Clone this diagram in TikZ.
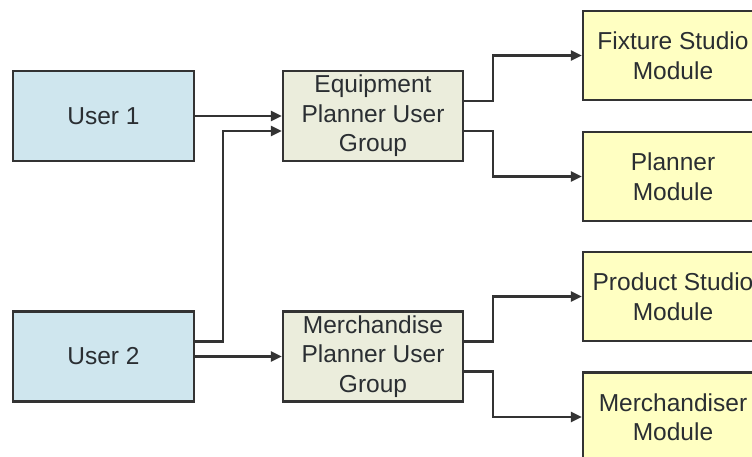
\documentclass[tikz,border=0pt]{standalone}
\usepackage{fontspec}
\setmainfont{Liberation Sans}
\usetikzlibrary{arrows.meta}
\definecolor{userfill}{HTML}{CFE6EE}
\definecolor{groupfill}{HTML}{EBEDDC}
\definecolor{modfill}{HTML}{FFFFC2}
\definecolor{edge}{HTML}{333333}
\definecolor{txt}{HTML}{2A2E32}
\begin{document}
\begin{tikzpicture}[x=1pt,y=-1pt,
  box/.style={draw=edge, line width=2.2pt, minimum width=181pt, minimum height=90pt,
    inner sep=0pt, align=center, text=txt, font=\fontsize{24.5}{29.5}\selectfont},
  userbox/.style={box, fill=userfill},
  groupbox/.style={box, fill=groupfill},
  modbox/.style={box, fill=modfill},
  conn/.style={draw=edge, line width=2.6pt, -{Triangle[length=11pt,width=10pt]}}]
\useasboundingbox (0,0) rectangle (752,456);
\clip (0,0) rectangle (752,456);
\fill[white] (0,0) rectangle (752,456);
\node[userbox] (u1) at (103.5,116) {User 1};
\node[userbox] (u2) at (103.5,356.5) {User 2};
\node[groupbox, minimum width=180pt] (eq) at (373,116) {Equipment\\Planner User\\Group};
\node[groupbox, minimum width=180pt] (me) at (373,356.5) {Merchandise\\Planner User\\Group};
\node[modbox, minimum width=180pt, minimum height=89pt] (fx) at (673,55.5) {Fixture Studio\\Module};
\node[modbox, minimum width=180pt, minimum height=89pt] (pl) at (673,176.5) {Planner\\Module};
\node[modbox, minimum width=180pt, minimum height=89pt] (ps) at (673,296.5) {Product Studio\\Module};
\node[modbox, minimum width=180pt, minimum height=89pt] (md) at (673,417) {Merchandiser\\Module};
\draw[conn] (u1.east) -- (eq.west);
\draw[conn] ([yshift=15pt]u2.east) -- ++(28pt,0) |- ([yshift=-15pt]eq.west);
\draw[conn] (u2.east) -- (me.west);
\draw[conn] ([yshift=15pt]eq.east) -- ++(29pt,0) |- (fx.west);
\draw[conn] ([yshift=-15pt]eq.east) -- ++(29pt,0) |- (pl.west);
\draw[conn] ([yshift=15pt]me.east) -- ++(29pt,0) |- (ps.west);
\draw[conn] ([yshift=-15pt]me.east) -- ++(29pt,0) |- (md.west);
\end{tikzpicture}
\end{document}
